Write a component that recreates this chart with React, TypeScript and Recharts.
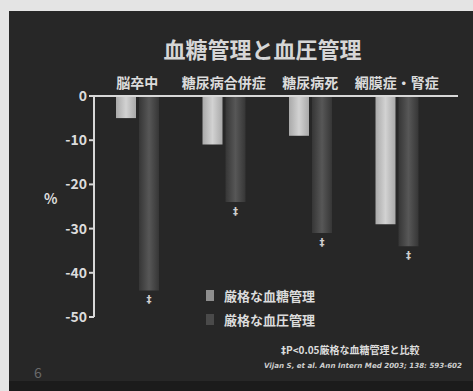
import React from 'react';
import { BarChart, Bar, XAxis, YAxis, LabelList } from 'recharts';

const categories = ['脳卒中', '糖尿病合併症', '糖尿病死', '網膜症・腎症'];
const glucoseControl = [-5, -11, -9, -29];
const pressureControl = [-44, -24, -31, -34];
const yTicks = [0, -10, -20, -30, -40, -50];
const seriesNames = ['厳格な血糖管理', '厳格な血圧管理'];

const data = categories.map((name, i) => ({
  name,
  glucose: glucoseControl[i],
  pressure: pressureControl[i],
}));

const FONT = '"Noto Sans CJK JP", "Noto Sans", sans-serif';
const TEXT = '#dcdcdc';

const Dagger = (props: any) => {
  const { x, y, width, height } = props;
  const bottom = Math.max(y, y + height);
  return (
    <text x={x + width / 2} y={bottom + 13} textAnchor="middle" fill="#d0d0d0" fontSize={10} fontWeight={700} fontFamily='"DejaVu Sans", sans-serif'>
      ‡
    </text>
  );
};

const App: React.FC = () => {
  return (
    <div style={{ position: 'absolute', left: 0, top: 0, width: 473, height: 391, background: '#e4e4e4', overflow: 'hidden' }}>
      <div style={{ position: 'absolute', left: 9, top: 11, width: 464, height: 370, background: '#272727' }} />
      <div style={{ position: 'absolute', left: 9, top: 381, width: 464, height: 10, background: '#1b1b1b' }} />
      <div style={{ position: 'absolute', left: 0, top: 0 }}>
        <BarChart
          width={473}
          height={391}
          data={data}
          margin={{ top: 66, right: 15, bottom: 74, left: 54 }}
          barSize={20}
          barGap={3}
          barCategoryGap="20%"
        >
          <defs>
            <linearGradient id="lightBar" x1="0" y1="0" x2="1" y2="0">
              <stop offset="0%" stopColor="#a9a9a9" />
              <stop offset="50%" stopColor="#d2d2d2" />
              <stop offset="100%" stopColor="#a9a9a9" />
            </linearGradient>
            <linearGradient id="darkBar" x1="0" y1="0" x2="1" y2="0">
              <stop offset="0%" stopColor="#363636" />
              <stop offset="50%" stopColor="#575757" />
              <stop offset="100%" stopColor="#363636" />
            </linearGradient>
          </defs>
          <XAxis
            dataKey="name"
            orientation="top"
            height={30}
            padding={{ left: 0, right: 18 }}
            axisLine={{ stroke: '#d8d8d8', strokeWidth: 2 }}
            tickLine={false}
            tick={{ fill: TEXT, fontSize: 14, fontWeight: 700, fontFamily: FONT }}
            interval={0}
          />
          <YAxis
            type="number"
            domain={[-50, 0]}
            ticks={yTicks}
            width={40}
            axisLine={{ stroke: '#d8d8d8', strokeWidth: 2 }}
            tickLine={{ stroke: '#d8d8d8', strokeWidth: 2 }}
            tickSize={5}
            tick={{ fill: TEXT, fontSize: 14, fontWeight: 700, fontFamily: FONT }}
            tickFormatter={(v: number) => (v === 0 ? '0' : `-${Math.abs(v)}`)}
          />
          <Bar dataKey="glucose" fill="url(#lightBar)" isAnimationActive={false} />
          <Bar dataKey="pressure" fill="url(#darkBar)" isAnimationActive={false}>
            <LabelList dataKey="pressure" content={<Dagger />} />
          </Bar>
        </BarChart>
      </div>

      <div style={{ position: 'absolute', left: 0, width: 473, top: 32, textAlign: 'center', paddingLeft: 52, boxSizing: 'border-box', color: '#d6d6d6', fontFamily: FONT, fontWeight: 700, fontSize: 22 }}>
        血糖管理と血圧管理
      </div>
      <div style={{ position: 'absolute', left: 44, top: 188, color: TEXT, fontFamily: FONT, fontWeight: 700, fontSize: 14 }}>%</div>

      <div style={{ position: 'absolute', left: 206, top: 286, display: 'flex', alignItems: 'center', fontFamily: FONT, fontWeight: 700, fontSize: 13, color: TEXT, whiteSpace: 'nowrap' }}>
        <span style={{ width: 8, height: 11, background: '#8e8e8e', marginRight: 10, display: 'inline-block' }} />
        {seriesNames[0]}
      </div>
      <div style={{ position: 'absolute', left: 206, top: 310, display: 'flex', alignItems: 'center', fontFamily: FONT, fontWeight: 700, fontSize: 13, color: TEXT, whiteSpace: 'nowrap' }}>
        <span style={{ width: 8, height: 11, background: '#4a4a4a', marginRight: 10, display: 'inline-block' }} />
        {seriesNames[1]}
      </div>
      <div style={{ position: 'absolute', left: 281, top: 342, fontFamily: FONT, fontWeight: 700, fontSize: 10, color: TEXT, whiteSpace: 'nowrap' }}>
        <span style={{ fontFamily: '"DejaVu Sans", sans-serif' }}>‡</span>P&lt;0.05厳格な血糖管理と比較
      </div>
      <div style={{ position: 'absolute', left: 264, top: 361, fontFamily: '"DejaVu Sans", sans-serif', fontStyle: 'italic', fontWeight: 700, fontSize: 7.1, color: '#cfcfcf', whiteSpace: 'nowrap' }}>
        Vijan S, et al. Ann Intern Med 2003; 138: 593-602
      </div>
      <div style={{ position: 'absolute', left: 34, top: 362, fontFamily: FONT, fontSize: 14, color: '#6a6a6a' }}>6</div>
    </div>
  );
};

export default App;
